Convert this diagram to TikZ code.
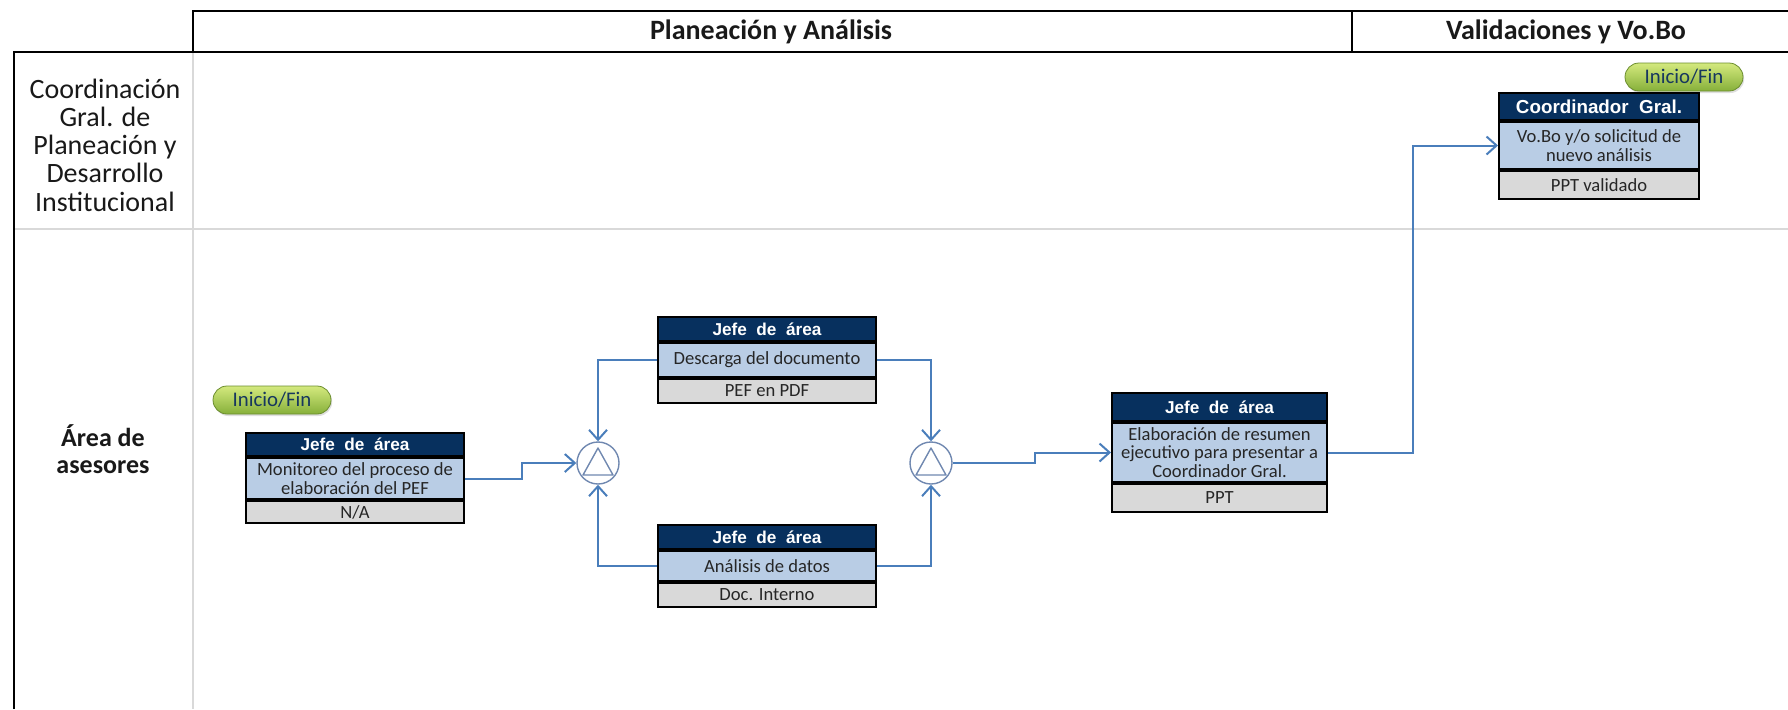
\documentclass[tikz,border=0pt]{standalone}
\usepackage{fontspec}
\setmainfont{Carlito}
\newfontfamily\hdrfont{Liberation Sans}
\usetikzlibrary{arrows.meta,shadows}
\definecolor{navy}{HTML}{07305E}
\definecolor{bodyblue}{HTML}{B9CDE5}
\definecolor{footgray}{HTML}{D9D9D9}
\definecolor{flowblue}{HTML}{4A7EBB}
\definecolor{gatecol}{HTML}{7088B0}
\definecolor{laneline}{HTML}{D9D9D9}
\definecolor{pilltop}{HTML}{D4E97E}
\definecolor{pillbot}{HTML}{86B03A}
\definecolor{pilltext}{HTML}{17375E}
\begin{document}
\begin{tikzpicture}[x=0.5pt,y=-0.5pt,
  hdr/.style={draw=black, line width=1pt, fill=navy, text=white, inner sep=0pt,
    font=\hdrfont\bfseries\fontsize{8.6}{9}\selectfont, anchor=north west},
  bod/.style={draw=black, line width=1pt, fill=bodyblue, text=black!85, inner sep=0pt,
    align=center, font=\fontsize{9.3}{9.2}\selectfont, anchor=north},
  ftr/.style={draw=black, line width=1pt, fill=footgray, text=black!85, inner sep=0pt,
    font=\fontsize{9.3}{9.2}\selectfont, anchor=north},
  gate/.style={circle, draw=gatecol, line width=0.7pt, fill=white, minimum size=21pt, inner sep=0pt},
  pill/.style={rounded corners=7pt, draw=pillbot!80!black, line width=0.4pt,
    top color=pilltop, bottom color=pillbot, text=pilltext, minimum width=59pt,
    minimum height=14pt, inner sep=0pt, font=\fontsize{10.4}{10.4}\selectfont,
    drop shadow={shadow xshift=0.6pt, shadow yshift=-1pt, opacity=0.25}},
  flow/.style={draw=flowblue, line width=1pt,
    -{Straight Barb[length=5pt,width=9pt,line width=1pt]}},
  grid/.style={draw=black, line width=1pt},
  lane/.style={draw=laneline, line width=0.8pt},
  colhead/.style={font=\bfseries\fontsize{14}{14}\selectfont, text=black!90},
]
\useasboundingbox (0,0) rectangle (1788,709);

% ---- swimlane grid ----
\draw[lane] (193,52) -- (193,709);
\draw[lane] (14,229) -- (1788,229);
\draw[grid] (193,52) -- (193,11) -- (1788,11);
\draw[grid] (1352,11) -- (1352,52);
\draw[grid] (14,709) -- (14,52) -- (1788,52);

\node[colhead] (colA) at (771,32) {Planeación y Análisis};
\node[colhead] (colB) at (1566,32) {Validaciones y Vo.Bo};

\node[align=center, font=\fontsize{14}{14.1}\selectfont, text=black!90] (laneA) at (105,145)
  {Coordinación\\Gral. de\\Planeación y\\Desarrollo\\Institucional};
\node[align=center, font=\bfseries\fontsize{13}{13.8}\selectfont, text=black!90] (laneB) at (103,449)
  {Área de\\asesores};

% ---- activity: monitoreo ----
\node[pill] (start) at (272,400) {Inicio/Fin};
\node[hdr, minimum width=109pt, minimum height=11.5pt] (monH) at (245,432) {Jefe\ \ de\ \ área};
\node[bod, minimum width=109pt, minimum height=20.5pt] (monB) at (monH.south) {Monitoreo del proceso de\\elaboración del PEF};
\node[ftr, minimum width=109pt, minimum height=11pt] (monF) at (monB.south) {N/A};

% ---- activity: descarga ----
\node[hdr, minimum width=109pt, minimum height=12pt] (desH) at (657,316) {Jefe\ \ de\ \ área};
\node[bod, minimum width=109pt, minimum height=17pt] (desB) at (desH.south) {Descarga del documento};
\node[ftr, minimum width=109pt, minimum height=12pt] (desF) at (desB.south) {PEF en PDF};

% ---- activity: analisis ----
\node[hdr, minimum width=109pt, minimum height=12pt] (anaH) at (657,524) {Jefe\ \ de\ \ área};
\node[bod, minimum width=109pt, minimum height=15pt] (anaB) at (anaH.south) {Análisis de datos};
\node[ftr, minimum width=109pt, minimum height=12pt] (anaF) at (anaB.south) {Doc. Interno};

% ---- activity: resumen ejecutivo ----
\node[hdr, minimum width=107.5pt, minimum height=14pt] (elaH) at (1111,392) {Jefe\ \ de\ \ área};
\node[bod, minimum width=107.5pt, minimum height=29.5pt] (elaB) at (elaH.south) {Elaboración de resumen\\ejecutivo para presentar a\\Coordinador Gral.};
\node[ftr, minimum width=107.5pt, minimum height=14pt] (elaF) at (elaB.south) {PPT};

% ---- activity: visto bueno ----
\node[pill] (finish) at (1684,77) {Inicio/Fin};
\node[hdr, minimum width=100pt, minimum height=13.5pt, font=\hdrfont\bfseries\fontsize{9.4}{9.4}\selectfont] (corH) at (1498,92) {Coordinador\ \ Gral.};
\node[bod, minimum width=100pt, minimum height=23.5pt] (corB) at (corH.south) {Vo.Bo y/o solicitud de\\nuevo análisis};
\node[ftr, minimum width=100pt, minimum height=14pt] (corF) at (corB.south) {PPT validado};

% ---- parallel gateways ----
\node[gate] (g1) at (598,463) {};
\node[gate] (g2) at (931,463) {};
\foreach \g in {g1,g2} {
  \draw[gatecol, line width=0.7pt, line join=round]
    ([yshift=7.5pt]\g.center) -- ([xshift=-7.5pt,yshift=-6pt]\g.center)
    -- ([xshift=7.5pt,yshift=-6pt]\g.center) -- cycle;
}

% ---- sequence flows ----
\draw[flow] (monB.east) -- ++(57,0) |- (g1.west);
\draw[flow] (desB.west) -| (g1.north);
\draw[flow] (anaB.west) -| (g1.south);
\draw[flow] (desB.east) -| (g2.north);
\draw[flow] (anaB.east) -| (g2.south);
\draw[flow] (g2.east) -- ++(82,0) |- (elaB.west);
\draw[flow] (elaB.east) -- ++(85,0) |- (corB.west);
\end{tikzpicture}
\end{document}
